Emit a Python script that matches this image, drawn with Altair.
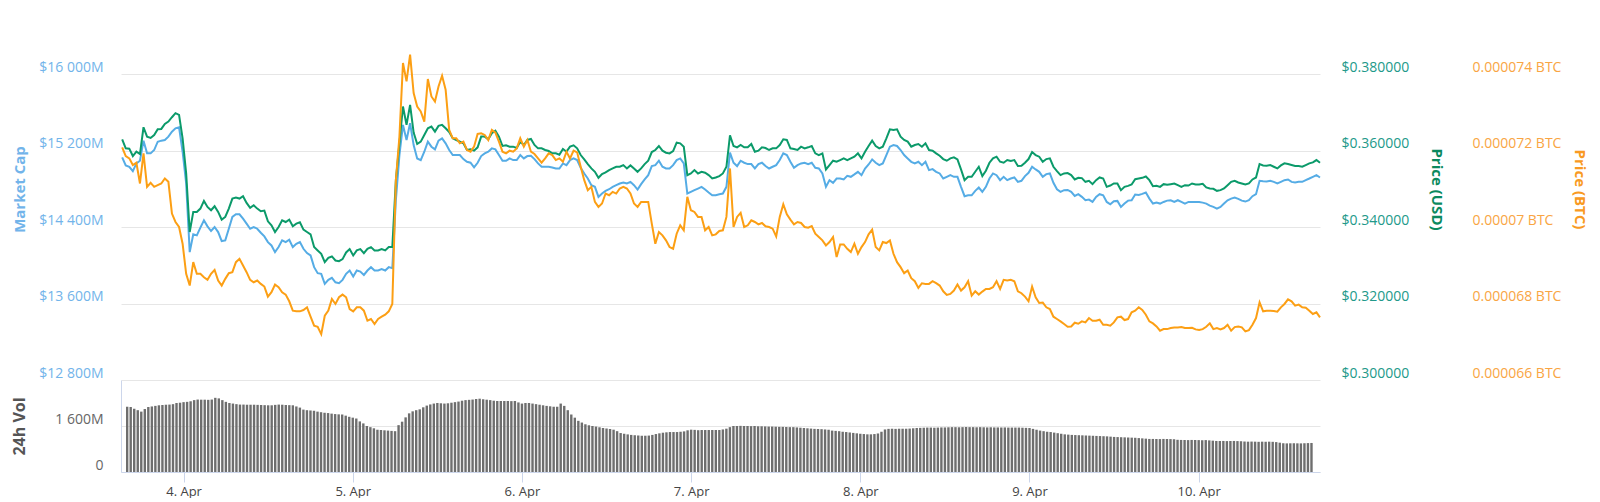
import altair as alt
import pandas as pd

# ---- values (30-minute steps from 3 Apr 16:00 UTC) ----
market_cap_musd = [
    15128, 15044, 15030, 14984, 15065, 15093, 15303, 15170, 15170, 15205,
    15292, 15303, 15310, 15345, 15397, 15432, 15443, 15187, 14855, 14137,
    14323, 14312, 14393, 14470, 14407, 14358, 14400, 14347, 14253, 14260,
    14382, 14505, 14533, 14533, 14487, 14435, 14382, 14400, 14382, 14340,
    14302, 14242, 14207, 14137, 14190, 14260, 14242, 14267, 14190, 14225,
    14242, 14172, 14127, 14102, 13980, 13917, 13910, 13805, 13847, 13868,
    13822, 13812, 13847, 13910, 13945, 13882, 13945, 13934, 13899, 13945,
    13980, 13945, 13945, 13959, 13945, 13980, 13969, 14680, 15152, 15467,
    15310, 15485, 15257, 15117,
    15100, 15187, 15292, 15240, 15212, 15303, 15327, 15275, 15205, 15152,
    15152, 15152, 15110, 15082, 15072, 15023, 15072, 15142, 15170, 15187,
    15222, 15212, 15152, 15093, 15093, 15117, 15100, 15100, 15152, 15117,
    15142, 15145, 15110, 15065, 15030, 15030, 15030, 15023, 15012, 15012,
    15065, 15047, 15100, 15117, 15100, 15019, 14960, 14907, 14837, 14820,
    14715, 14750, 14778, 14795, 14820, 14837, 14855, 14865, 14855, 14872,
    14837, 14792, 14848, 14897, 14942, 15037, 15047, 15093, 15030, 15012,
    15012, 15047, 15100, 15117, 15065, 14750, 14767, 14785, 14802, 14820,
    14792, 14760, 14732, 14732,
    14743,
    14750, 14820, 15177, 15072, 15037, 15093, 15072, 15058, 15058, 15012,
    15058, 15072, 15037, 15012, 15030, 15047, 15100, 15170, 15152, 15082,
    15019, 15047, 15065, 15072, 15058, 15072, 15019, 15012, 14960, 14820,
    14890, 14862, 14907, 14907, 14897, 14935, 14925, 14950, 14977, 14942,
    15012, 15054, 15107, 15072, 15047, 15065, 15152, 15240, 15257, 15247,
    15205, 15152, 15117, 15082, 15065, 15082, 15047, 15082, 14995, 15005,
    14977, 14960, 14907, 14925, 14942, 14925, 14925, 14820, 14722, 14732,
    14732, 14778, 14813, 14767, 14820, 14907, 14960, 14942, 14890, 14925,
    14890, 14907, 14918,
    14872, 14883, 14932, 14967, 15030, 15002, 14977, 14925, 14953, 14960,
    14862, 14795, 14767, 14785, 14788, 14767, 14725, 14743, 14715, 14680,
    14687, 14662, 14715, 14743, 14732, 14662, 14638, 14669, 14673, 14610,
    14645, 14676, 14680, 14739, 14736, 14746, 14760, 14697, 14645, 14655,
    14645, 14662, 14676, 14680, 14662, 14680, 14662, 14645, 14662, 14662,
    14662, 14662, 14655, 14645, 14624, 14610, 14592, 14610, 14645, 14680,
    14697, 14708, 14694, 14676, 14666, 14680, 14722, 14743, 14883, 14879,
    14876, 14883, 14872, 14855, 14872, 14890, 14897, 14872, 14865, 14872,
    14872, 14890, 14907, 14925, 14942, 14918,
]

price_usd = [
    0.36293, 0.36056, 0.36048, 0.35855, 0.35969, 0.35908, 0.36608, 0.36363, 0.36328, 0.36406,
    0.36555, 0.36564, 0.36695, 0.36756, 0.3687, 0.36975, 0.36931, 0.36319, 0.354, 0.33869,
    0.34394, 0.34394, 0.34481, 0.34683, 0.34525, 0.34438, 0.34543, 0.34394, 0.34193, 0.34263,
    0.34481, 0.34744, 0.3477, 0.34744, 0.34805, 0.3463, 0.34499, 0.34569, 0.34481, 0.34411,
    0.34429, 0.34149, 0.34044, 0.33869, 0.34, 0.34175, 0.34131, 0.34193, 0.34018, 0.34088,
    0.34123, 0.3393, 0.33869, 0.33808, 0.33475, 0.33388, 0.333, 0.33081, 0.33195, 0.3323,
    0.33125, 0.33108, 0.3316, 0.33335, 0.33423, 0.33256, 0.33388, 0.33423, 0.33318, 0.33431,
    0.33475, 0.33388, 0.33388, 0.33423, 0.33388, 0.33475, 0.33475, 0.35225, 0.36188, 0.3715,
    0.36669, 0.37194, 0.36468, 0.3617,
    0.36231, 0.36406, 0.36581, 0.36625, 0.36494, 0.36643, 0.36669, 0.36581, 0.36485, 0.36319,
    0.36275, 0.36231, 0.36188, 0.36013, 0.3603, 0.35995, 0.36083, 0.36363, 0.36363, 0.36293,
    0.3645, 0.3652, 0.36363, 0.36118, 0.36135, 0.361, 0.361, 0.36065, 0.36231, 0.36144,
    0.36275, 0.36301, 0.36144, 0.36056, 0.36056, 0.36013, 0.35986, 0.35925, 0.35925, 0.3589,
    0.36039, 0.35969, 0.361, 0.36135, 0.36056, 0.35881, 0.35768, 0.35645, 0.35531, 0.35444,
    0.35286, 0.35383, 0.35426, 0.35488, 0.35531, 0.35575, 0.35575, 0.35619, 0.35531, 0.3561,
    0.35531, 0.35444, 0.35531, 0.35645, 0.35733, 0.3596, 0.36013, 0.36118, 0.35995, 0.35943,
    0.35925, 0.35986, 0.36205, 0.36188, 0.361, 0.35356, 0.354, 0.35488, 0.354, 0.35444,
    0.35418, 0.35356, 0.35269, 0.35295,
    0.3533,
    0.354, 0.35575, 0.36398, 0.36118, 0.36083, 0.36144, 0.36083, 0.36083, 0.3617, 0.35969,
    0.35995, 0.36083, 0.36065, 0.36013, 0.36056, 0.36056, 0.36144, 0.36293, 0.36275, 0.36056,
    0.36039, 0.36013, 0.361, 0.36056, 0.36083, 0.36118, 0.35925, 0.35881, 0.35925, 0.35505,
    0.35619, 0.35733, 0.35706, 0.3575, 0.35794, 0.3575, 0.35794, 0.35838, 0.35925, 0.35794,
    0.35969, 0.36118, 0.36258, 0.36118, 0.36056, 0.361, 0.36319, 0.36555, 0.36538, 0.36555,
    0.36363, 0.36275, 0.36231, 0.361, 0.36144, 0.3617, 0.361, 0.36188, 0.36013, 0.35995,
    0.35925, 0.35864, 0.35776, 0.35733, 0.35794, 0.3582, 0.35768, 0.35505, 0.35225, 0.35313,
    0.35313, 0.35444, 0.35575, 0.3533, 0.3547, 0.3568, 0.35794, 0.35838, 0.35706, 0.3568,
    0.3575, 0.35724, 0.3575,
    0.35593, 0.35601, 0.3568, 0.35776, 0.3596, 0.35881, 0.35838, 0.35706, 0.35776, 0.35794,
    0.35575, 0.35461, 0.35356, 0.354, 0.35409, 0.35356, 0.35243, 0.35286, 0.35278, 0.35181,
    0.35208, 0.3512, 0.35225, 0.35295, 0.35269, 0.3505, 0.35085, 0.35138, 0.35138, 0.34963,
    0.3505, 0.35076, 0.35111, 0.35251, 0.35269, 0.35286, 0.35321, 0.35225, 0.35068, 0.35076,
    0.3505, 0.3512, 0.35103, 0.3512, 0.35138, 0.35094, 0.3505, 0.35094, 0.35085, 0.35138,
    0.35111, 0.35111, 0.35129, 0.35033, 0.35006, 0.34998, 0.34945, 0.34963, 0.35006, 0.35094,
    0.35181, 0.35208, 0.35164, 0.35138, 0.35111, 0.35138, 0.35243, 0.35295, 0.35645, 0.3561,
    0.35601, 0.35619, 0.35575, 0.35531, 0.3561, 0.35663, 0.35645, 0.35619, 0.35593, 0.35593,
    0.35575, 0.35619, 0.35663, 0.35689, 0.3575, 0.3568,
]

# price in micro-BTC (millionths of a bitcoin)
price_btc_ubtc = [
    72.083, 71.855, 71.794, 71.619, 71.68, 71.138, 71.925, 71.05, 71.155, 71.05,
    71.094, 71.138, 71.269, 71.181, 70.35, 70.131, 70.0, 69.563, 68.775, 68.469,
    69.081, 68.775, 68.775, 68.688, 68.618, 68.775, 68.88, 68.6, 68.469, 68.644,
    68.793, 68.819, 69.081, 69.169, 68.994, 68.819, 68.618, 68.556, 68.6, 68.513,
    68.443, 68.18, 68.294, 68.495, 68.425, 68.294, 68.233, 68.058, 67.813, 67.795,
    67.795, 67.83, 67.9, 67.655, 67.419, 67.393, 67.2, 67.681, 67.813, 68.119,
    67.988, 68.163, 68.233, 68.163, 67.856, 67.795, 67.9, 67.9, 67.813, 67.55,
    67.594, 67.463, 67.594, 67.655, 67.708, 67.795, 67.988, 71.225, 72.363, 74.288,
    73.806, 74.506, 73.5, 73.15,
    73.019, 72.756, 73.868, 73.413, 73.281, 73.675, 73.955, 73.588, 72.538, 72.319,
    72.319, 72.188, 72.231, 72.013, 71.969, 72.1, 72.433, 72.45, 72.406, 72.275,
    72.538, 72.468, 72.231, 71.969, 71.925, 71.995, 71.969, 72.056, 72.319, 72.1,
    72.275, 71.969, 71.908, 71.794, 71.68, 71.794, 71.925, 71.881, 71.75, 71.794,
    71.706, 71.969, 71.794, 71.995, 71.951, 71.575, 71.225, 70.963, 71.05, 70.656,
    70.525, 70.613, 70.875, 70.831, 70.919, 70.875, 71.006, 71.05, 71.006, 70.875,
    70.613, 70.525, 70.656, 70.656, 70.656, 70.088, 69.563, 69.869, 69.781, 69.65,
    69.475, 69.431, 69.825, 70.044, 69.913, 70.788, 70.438, 70.394, 70.263, 70.263,
    69.913, 70.0, 69.781, 69.808,
    69.895,
    69.913, 70.263, 71.531, 70.0, 70.263, 70.368, 70.0, 70.044, 70.175, 70.131,
    70.07, 70.105, 70.018, 70.0, 69.956, 69.755, 70.263, 70.595, 70.333, 70.193,
    70.07, 70.131, 70.105, 70.0, 69.983, 70.026, 69.825, 69.738, 69.65, 69.519,
    69.606, 69.738, 69.213, 69.545, 69.545, 69.431, 69.344, 69.563, 69.3, 69.475,
    69.606, 69.808, 69.93, 69.475, 69.388, 69.606, 69.58, 69.65, 69.3, 69.081,
    68.95, 68.793, 68.863, 68.661, 68.583, 68.408, 68.53, 68.513, 68.513, 68.583,
    68.53, 68.469, 68.32, 68.224, 68.25, 68.338, 68.495, 68.338, 68.425, 68.583,
    68.206, 68.32, 68.233, 68.311, 68.381, 68.381, 68.425, 68.583, 68.381, 68.618,
    68.6, 68.618, 68.583,
    68.32, 68.268, 68.18, 68.058, 68.443, 68.163, 68.014, 68.023, 67.9, 67.856,
    67.655, 67.594, 67.533, 67.463, 67.393, 67.401, 67.498, 67.471, 67.533, 67.506,
    67.62, 67.55, 67.55, 67.576, 67.445, 67.445, 67.419, 67.506, 67.638, 67.655,
    67.568, 67.594, 67.769, 67.813, 67.9, 67.83, 67.708, 67.533, 67.48, 67.401,
    67.288, 67.331, 67.331, 67.358, 67.375, 67.375, 67.384, 67.358, 67.358, 67.366,
    67.323, 67.305, 67.331, 67.393, 67.48, 67.331, 67.358, 67.323, 67.358, 67.445,
    67.288, 67.384, 67.401, 67.375, 67.27, 67.305, 67.445, 67.62, 68.031, 67.795,
    67.813, 67.813, 67.804, 67.786, 67.9, 67.988, 68.11, 68.058, 67.944, 67.97,
    67.9, 67.891, 67.813, 67.725, 67.769, 67.638,
]

# 24h volume in millions of USD (30-minute steps from 3 Apr 16:00 UTC)
volume_musd = [
    2270, 2260, 2200, 2150, 2100, 2190, 2260, 2280, 2300, 2320, 2330, 2340, 2345, 2360, 2400, 2410,
    2430, 2440, 2460, 2500, 2520, 2515, 2515, 2510, 2520, 2580, 2560, 2500, 2440, 2400, 2380, 2360,
    2345, 2345, 2340, 2340, 2340, 2335, 2330, 2325, 2320, 2320, 2335, 2345, 2340, 2330, 2325, 2320,
    2280, 2240, 2170, 2150, 2140, 2130, 2100, 2080, 2060, 2050, 2030, 2015, 2005, 2000, 1960, 1920,
    1890, 1860, 1760, 1690, 1600, 1560, 1520, 1470, 1460, 1450, 1440, 1430, 1420, 1630, 1750, 1900,
    2040, 2110, 2150, 2180, 2250, 2310, 2350, 2380, 2400, 2390, 2380, 2390, 2410, 2430, 2450, 2480,
    2500, 2510, 2520, 2540, 2550, 2530, 2515, 2500, 2480, 2470, 2470, 2470, 2470, 2465, 2470, 2420,
    2380, 2400, 2400, 2380, 2360, 2340, 2320, 2300, 2285, 2270, 2270, 2380, 2300, 2150, 2000, 1890,
    1780, 1720, 1660, 1625, 1600, 1580, 1555, 1530, 1513, 1495, 1472, 1420, 1355, 1330, 1308, 1290,
    1279, 1270, 1261, 1262, 1267, 1290, 1320, 1345, 1367, 1380, 1390, 1390, 1390, 1400, 1413, 1450,
    1472, 1465, 1454, 1460, 1460, 1460, 1460, 1460, 1460, 1480, 1507, 1560, 1600, 1600, 1605, 1600,
    1600, 1595, 1600, 1590, 1590, 1585, 1580, 1580, 1575, 1570, 1570, 1565, 1560, 1560, 1550, 1540,
    1530, 1520, 1510, 1500, 1495, 1490, 1480, 1470, 1440, 1430, 1420, 1400, 1390, 1375, 1360, 1345,
    1330, 1320, 1310, 1310, 1320, 1340, 1400, 1480, 1500, 1505, 1500, 1505, 1505, 1505, 1510, 1520,
    1530, 1535, 1540, 1545, 1545, 1540, 1545, 1550, 1550, 1555, 1560, 1560, 1555, 1560, 1565, 1560,
    1560, 1555, 1560, 1555, 1550, 1555, 1550, 1550, 1548, 1550, 1545, 1545, 1545, 1545, 1540, 1535,
    1530, 1500, 1470, 1440, 1420, 1400, 1390, 1370, 1350, 1330, 1310, 1300, 1290, 1285, 1280, 1275,
    1270, 1265, 1260, 1255, 1250, 1245, 1240, 1230, 1220, 1215, 1210, 1205, 1200, 1195, 1190, 1180,
    1170, 1160, 1150, 1150, 1148, 1145, 1150, 1148, 1145, 1140, 1120, 1115, 1113, 1110, 1115, 1113,
    1110, 1105, 1110, 1100, 1090, 1080, 1078, 1080, 1075, 1078, 1080, 1075, 1070, 1060, 1055, 1058,
    1055, 1050, 1055, 1052, 1055, 1050, 1040, 1020, 1000, 995, 998, 1000, 997, 995, 1000, 1005,
    1010,
]

mc_ticks = [12800, 13600, 14400, 15200, 16000]
usd_ticks = [0.30, 0.32, 0.34, 0.36, 0.38]
btc_ticks = [66, 68, 70, 72, 74]
vol_ticks = [0, 1600]
day_ticks = [4, 5, 6, 7, 8, 9, 10]

BLUE_LINE = "#55ace5"
BLUE_TXT = "#72b4ea"
GREEN_LINE = "#0b9a6a"
GREEN_TXT = "#22998a"
GREEN_TITLE = "#0b8a5e"
ORANGE_LINE = "#fc9f14"
ORANGE_TXT = "#f9a543"
ORANGE_TITLE = "#f99a22"
GRID = "#e6e6e6"
AXIS_LINE = "#ccd6eb"

start = pd.Timestamp("2019-04-03 16:00", tz="UTC")
t_lines = pd.date_range(start, periods=len(price_usd), freq="30min")
t_vol = pd.date_range(start, periods=len(volume_musd), freq="30min")

lines = pd.DataFrame({
    "t": t_lines.strftime("%Y-%m-%dT%H:%M:%SZ"),
    "mc": market_cap_musd,
    "usd": price_usd,
    "btc": price_btc_ubtc,
})
vol = pd.DataFrame({"t": t_vol.strftime("%Y-%m-%dT%H:%M:%SZ"), "vol": volume_musd})

x_domain = [
    alt.DateTime(year=2019, month=4, date=3, hours=15, minutes=50, utc=True),
    alt.DateTime(year=2019, month=4, date=10, hours=16, minutes=30, utc=True),
]
x_scale = alt.Scale(type="utc", domain=x_domain)
tick_dates = [alt.DateTime(year=2019, month=4, date=d, utc=True) for d in day_ticks]

PLOT_W = 1199
MAIN_H = 340
VOL_H = 92

base = alt.Chart(lines).encode(x=alt.X("t:T", scale=x_scale, axis=None))

mc_line = base.mark_line(color=BLUE_LINE, strokeWidth=2).encode(
    y=alt.Y(
        "mc:Q",
        scale=alt.Scale(domain=[12800, 16355.6], nice=False, zero=False),
        axis=alt.Axis(
            orient="left", values=mc_ticks, grid=True, gridColor=GRID, gridWidth=1,
            domain=False, ticks=False, labelColor=BLUE_TXT, labelFontSize=14,
            labelPadding=18, labelOffset=-7,
            labelExpr="'$' + replace(format(datum.value, ','), ',', ' ') + 'M'",
            title="Market Cap", titleColor=BLUE_TXT, titleFontSize=15,
            titleFontWeight="bold", titleX=-102, titleY=149, titleAngle=270,
            titleAlign="center", titleBaseline="middle",
        ),
    )
)

usd_line = base.mark_line(color=GREEN_LINE, strokeWidth=2).encode(
    y=alt.Y(
        "usd:Q",
        scale=alt.Scale(domain=[0.30, 0.388889], nice=False, zero=False),
        axis=alt.Axis(
            orient="right", values=usd_ticks, grid=False, domain=False, ticks=False,
            format="$.6f", labelColor=GREEN_TXT, labelFontSize=14,
            labelPadding=21, labelOffset=-7,
            title="Price (USD)", titleColor=GREEN_TITLE, titleFontSize=15,
            titleFontWeight="bold", titleX=116, titleY=149, titleAngle=90,
            titleAlign="center", titleBaseline="middle",
        ),
    )
)

btc_line = base.mark_line(color=ORANGE_LINE, strokeWidth=2).encode(
    y=alt.Y(
        "btc:Q",
        scale=alt.Scale(domain=[66, 74.8889], nice=False, zero=False),
        axis=alt.Axis(
            orient="right", offset=131, values=btc_ticks, grid=False, domain=False,
            ticks=False, labelColor=ORANGE_TXT, labelFontSize=14,
            labelPadding=21, labelOffset=-7,
            labelExpr="format(datum.value / 1000000, '.6~f') + ' BTC'",
            title="Price (BTC)", titleColor=ORANGE_TITLE, titleFontSize=15,
            titleFontWeight="bold", titleX=128, titleY=149, titleAngle=90,
            titleAlign="center", titleBaseline="middle",
        ),
    )
)

main = alt.layer(mc_line, usd_line, btc_line).resolve_scale(y="independent").properties(
    width=PLOT_W, height=MAIN_H
)

vol_chart = alt.Chart(vol).mark_bar(color="#6e6e6e", size=2.4).encode(
    x=alt.X(
        "t:T",
        scale=x_scale,
        axis=alt.Axis(
            values=tick_dates, labelExpr="utcFormat(datum.value, '%-d. %b')",
            domainColor=AXIS_LINE, tickColor=AXIS_LINE, tickSize=10,
            labelFontSize=13, labelColor="#444", labelPadding=3, grid=False,
            title=None, labelFlush=False,
        ),
    ),
    y=alt.Y(
        "vol:Q",
        scale=alt.Scale(domain=[0, 3200], nice=False),
        axis=alt.Axis(
            values=vol_ticks, grid=True, gridColor=GRID, domainColor=AXIS_LINE,
            ticks=False, labelPadding=18, labelOffset=-7, labelColor="#666",
            labelFontSize=14,
            labelExpr="datum.value == 0 ? '0' : replace(format(datum.value, ','), ',', ' ') + 'M'",
            title="24h Vol", titleFontSize=16, titleFontWeight="bold", titleColor="#555",
            titleX=-102, titleY=46, titleAngle=270, titleAlign="center",
            titleBaseline="middle",
        ),
    ),
).properties(width=PLOT_W, height=VOL_H)

chart = (
    alt.vconcat(main, vol_chart, spacing=0, bounds="flush")
    .properties(padding={"left": 3, "top": 32, "right": 3, "bottom": 0})
    .configure(font="Open Sans")
    .configure_view(stroke=None)
)

chart.save("out.html", embed_options={"renderer": "svg", "actions": False})
